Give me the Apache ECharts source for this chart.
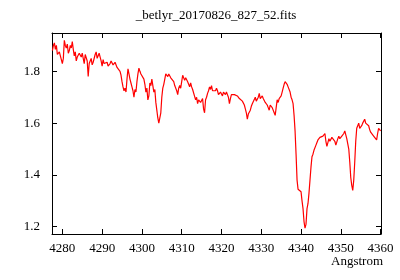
<!DOCTYPE html>
<html>
<head>
<meta charset="utf-8">
<script src="https://cdn.jsdelivr.net/npm/echarts@6/dist/echarts.min.js"></script>
<style>html,body{margin:0;padding:0;background:#fff}#c{width:400px;height:280px}</style>
</head>
<body>
<div id="c"></div>
<script>
var chartTitle = "_betlyr_20170826_827_52.fits";
var xAxisName = "Angstrom";
var xTicks = [4280, 4290, 4300, 4310, 4320, 4330, 4340, 4350, 4360];
var yTicks = [1.2, 1.4, 1.6, 1.8];
var lambdaStart = 4277.5;
var lambdaStep = 0.25;
var flux = [
 1.88, 1.90, 1.91, 1.885,
 1.90, 1.865, 1.87, 1.875,
 1.86, 1.845, 1.83, 1.85,
 1.92, 1.90, 1.89, 1.905,
 1.87, 1.88, 1.90, 1.89,
 1.915, 1.885, 1.86, 1.875,
 1.84, 1.855, 1.85, 1.87,
 1.865, 1.855, 1.87, 1.85,
 1.83, 1.865, 1.86, 1.84,
 1.78, 1.83, 1.84, 1.85,
 1.825, 1.835, 1.84, 1.865,
 1.875, 1.85, 1.86, 1.87,
 1.855, 1.84, 1.82, 1.845,
 1.83, 1.835, 1.825, 1.835,
 1.82, 1.815, 1.83, 1.84,
 1.835, 1.825, 1.825, 1.835,
 1.83, 1.815, 1.82, 1.81,
 1.80, 1.785, 1.76, 1.74,
 1.725, 1.735, 1.72, 1.77,
 1.81, 1.79, 1.77, 1.755,
 1.74, 1.725, 1.70, 1.73,
 1.72, 1.76, 1.79, 1.812,
 1.80, 1.79, 1.795, 1.785,
 1.77, 1.75, 1.72, 1.735,
 1.69, 1.705, 1.755, 1.745,
 1.77, 1.745, 1.72, 1.73,
 1.68, 1.65, 1.62, 1.60,
 1.595, 1.64, 1.70, 1.735,
 1.75, 1.77, 1.79, 1.797,
 1.78, 1.79, 1.785, 1.775,
 1.77, 1.78, 1.76, 1.745,
 1.74, 1.725, 1.71, 1.735,
 1.745, 1.735, 1.76, 1.785,
 1.78, 1.765, 1.775, 1.77,
 1.76, 1.75, 1.74, 1.755,
 1.74, 1.73, 1.725, 1.735,
 1.69, 1.70, 1.675, 1.69,
 1.69, 1.68, 1.685, 1.695,
 1.655, 1.64, 1.69, 1.70,
 1.715, 1.725, 1.74, 1.73,
 1.745, 1.725, 1.73, 1.72,
 1.725, 1.735, 1.725, 1.71,
 1.705, 1.72, 1.715, 1.705,
 1.72, 1.715, 1.71, 1.72,
 1.71, 1.70, 1.675, 1.695,
 1.71, 1.705, 1.715, 1.71,
 1.71, 1.715, 1.705, 1.70,
 1.695, 1.69, 1.695, 1.685,
 1.68, 1.67, 1.655, 1.64,
 1.615, 1.635, 1.64, 1.65,
 1.665, 1.675, 1.68, 1.67,
 1.70, 1.685, 1.69, 1.70,
 1.715, 1.695, 1.70, 1.705,
 1.695, 1.69, 1.68, 1.675,
 1.67, 1.66, 1.65, 1.67,
 1.665, 1.66, 1.655, 1.64,
 1.63, 1.66, 1.69, 1.68,
 1.695, 1.70, 1.705, 1.72,
 1.735, 1.75, 1.76, 1.755,
 1.75, 1.74, 1.735, 1.72,
 1.70, 1.69, 1.675, 1.63,
 1.57, 1.48, 1.38, 1.345,
 1.34, 1.345, 1.335, 1.30,
 1.27, 1.22, 1.195, 1.21,
 1.27, 1.29, 1.33, 1.38,
 1.43, 1.47, 1.48, 1.495,
 1.50, 1.515, 1.525, 1.535,
 1.53, 1.545, 1.55, 1.545,
 1.55, 1.555, 1.56, 1.53,
 1.51, 1.525, 1.54, 1.53,
 1.535, 1.545, 1.55, 1.54,
 1.53, 1.515, 1.52, 1.54,
 1.55, 1.54, 1.545, 1.55,
 1.555, 1.56, 1.57, 1.555,
 1.54, 1.52, 1.50, 1.45,
 1.39, 1.36, 1.34, 1.38,
 1.45, 1.53, 1.58, 1.585,
 1.60, 1.58, 1.575, 1.59,
 1.60, 1.605, 1.615, 1.60,
 1.60, 1.595, 1.59, 1.575,
 1.565, 1.57, 1.56, 1.55,
 1.545, 1.55, 1.535, 1.56,
 1.58, 1.575, 1.57
];
var points = flux.map(function (v, i) { return [lambdaStart + i * lambdaStep, v]; });

var font = "Liberation Serif";
var tickStyle = { show: true, inside: true, length: 5, lineStyle: { color: "#000", width: 1 } };
function xAx(pos, labels) {
  return {
    type: "value", position: pos, min: 4277.4, max: 4360.1,
    axisLine: { show: true, onZero: false, lineStyle: { color: "#000", width: 1 } },
    axisTick: Object.assign({ customValues: xTicks }, tickStyle),
    axisLabel: { show: labels, customValues: xTicks, color: "#000", fontFamily: font, fontSize: 13, margin: 8,
      formatter: function (v) { return String(v); } },
    splitLine: { show: false }
  };
}
function yAx(pos, labels) {
  return {
    type: "value", position: pos, min: 1.172, max: 1.948,
    axisLine: { show: true, onZero: false, lineStyle: { color: "#000", width: 1 } },
    axisTick: Object.assign({ customValues: yTicks }, tickStyle),
    axisLabel: { show: labels, customValues: yTicks, color: "#000", fontFamily: font, fontSize: 13, margin: 12,
      formatter: function (v) { return v.toFixed(1); } },
    splitLine: { show: false }
  };
}
var chart = echarts.init(document.getElementById("c"), null, { renderer: "canvas" });
chart.setOption({
  animation: false,
  backgroundColor: "#fff",
  title: [
    { text: chartTitle, left: 216, top: 9, textAlign: "center", padding: 0,
      textStyle: { fontFamily: font, fontSize: 13, fontWeight: "normal", color: "#000" } },
    { text: xAxisName, right: 17, top: 255, padding: 0,
      textStyle: { fontFamily: font, fontSize: 13, fontWeight: "normal", color: "#000" } }
  ],
  grid: { left: 52, right: 19, top: 33, bottom: 46 },
  xAxis: [xAx("bottom", true), xAx("top", false)],
  yAxis: [yAx("left", true), yAx("right", false)],
  series: [{
    type: "line", xAxisIndex: 0, yAxisIndex: 0, data: points,
    showSymbol: false, symbol: "none", clip: true,
    lineStyle: { color: "#ff0000", width: 1.2 }
  }]
});
</script>
</body>
</html>
